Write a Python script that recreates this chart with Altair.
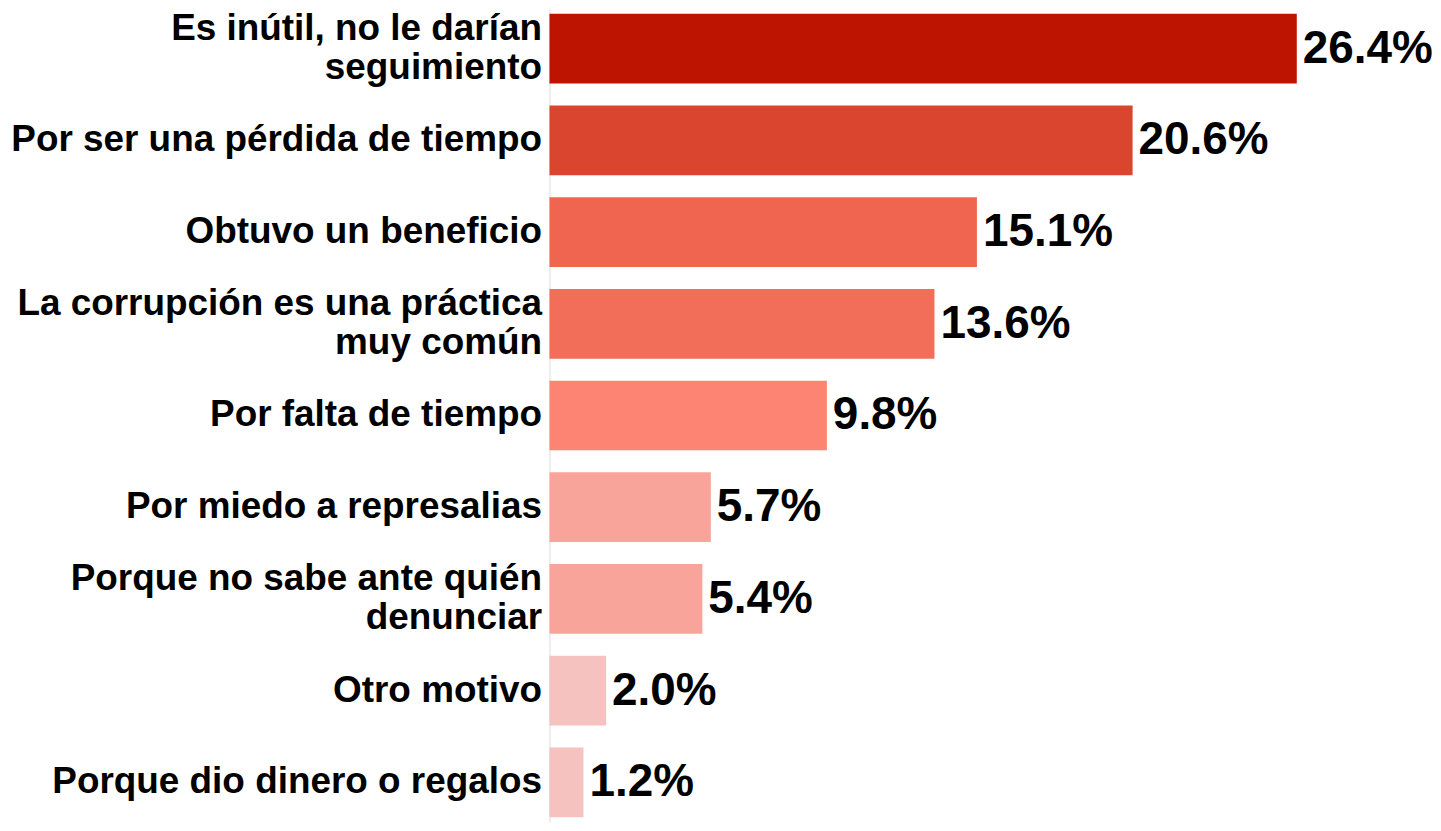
import altair as alt
import pandas as pd

categories = [
    "Es inútil, no le darían|seguimiento",
    "Por ser una pérdida de tiempo",
    "Obtuvo un beneficio",
    "La corrupción es una práctica|muy común",
    "Por falta de tiempo",
    "Por miedo a represalias",
    "Porque no sabe ante quién|denunciar",
    "Otro motivo",
    "Porque dio dinero o regalos",
]
values = [26.4, 20.6, 15.1, 13.6, 9.8, 5.7, 5.4, 2.0, 1.2]
labels = ["26.4%", "20.6%", "15.1%", "13.6%", "9.8%", "5.7%", "5.4%", "2.0%", "1.2%"]
colors = ["#BC1400", "#DA4530", "#EF6550", "#F36E59", "#FD8472",
          "#F9A49A", "#F9A49A", "#F5C2BF", "#F5C2BF"]

df = pd.DataFrame({"cat": categories, "val": values, "lab": labels, "col": colors})

FONT = "Liberation Sans"
LINE_H = 39

y = alt.Y(
    "cat:N",
    sort=categories,
    title=None,
    scale=alt.Scale(paddingInner=0.24, paddingOuter=0.05),
    axis=alt.Axis(
        labelExpr="split(datum.label, '|')",
        labelFont=FONT,
        labelFontSize=37,
        labelFontWeight="bold",
        labelColor="#000000",
        labelLineHeight=LINE_H,
        labelOffset={"condition": {"test": "indexof(datum.label, '|') >= 0",
                                   "value": -LINE_H / 2},
                     "value": 0},
        labelPadding=8,
        labelLimit=1000,
        ticks=False,
        domainColor="#dddddd",
        domainWidth=1,
        minExtent=543,
        maxExtent=543,
        grid=False,
    ),
)
x = alt.X("val:Q", axis=None, scale=alt.Scale(domain=[0, 30.93], nice=False, zero=True))

bars = alt.Chart(df).mark_bar().encode(
    x=x, y=y, color=alt.Color("col:N", scale=None)
)
text = alt.Chart(df).mark_text(
    align="left", baseline="middle", dx=6, font=FONT, fontSize=46,
    fontWeight="bold", color="#000000"
).encode(x=x, y=y, text="lab:N")

chart = (bars + text).properties(
    width=878, height=815, padding=0
).configure_view(stroke=None)

chart.save("out.html", embed_options={"renderer": "svg", "actions": False})
